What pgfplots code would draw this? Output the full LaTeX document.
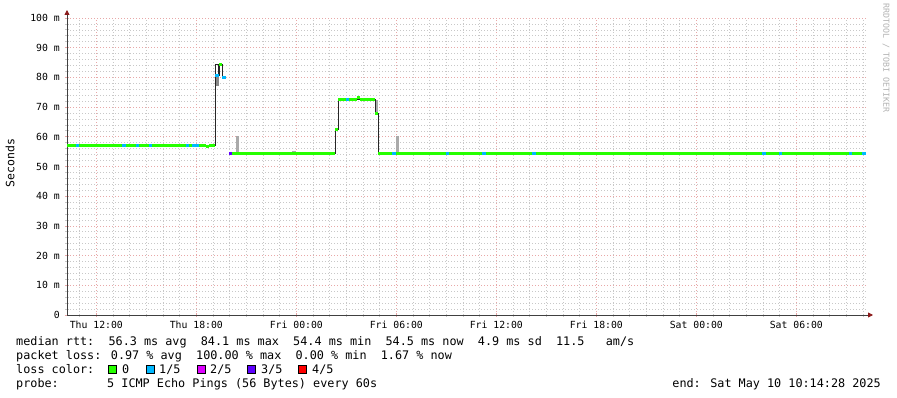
\documentclass[border=0pt]{standalone}
\usepackage{fontspec}
\setmainfont{DejaVu Sans Mono}
\usepackage{pgfplots}
\pgfplotsset{compat=1.18}
\usetikzlibrary{arrows.meta}
\definecolor{lgreen}{HTML}{26FF00}
\definecolor{lblue}{HTML}{00B8FF}
\definecolor{lmag}{HTML}{DD00FF}
\definecolor{lviol}{HTML}{5E00FF}
\definecolor{lred}{HTML}{FF0000}
\definecolor{smoke}{HTML}{AAAAAA}
\definecolor{darksmoke}{HTML}{888888}
\definecolor{majgrid}{HTML}{E8A8A8}
\definecolor{mingrid}{HTML}{C8C8C8}
\definecolor{axred}{HTML}{8B1A1A}
\definecolor{axgray}{HTML}{404040}
\begin{document}
\begin{tikzpicture}
\useasboundingbox (0pt,0pt) rectangle (897pt,397pt);
\begin{axis}[
  at={(67pt,82pt)}, anchor=south west,
  scale only axis, width=800pt, height=297pt,
  xmin=10.24, xmax=58.24, ymin=0, ymax=100,
  axis lines=left,
  x axis line style={draw=axgray, line width=0.8pt, shorten >=-6pt, -{Triangle[length=5pt,width=5pt,color=axred]}},
  y axis line style={draw=axgray, line width=0.8pt, shorten >=-8pt, -{Triangle[length=5pt,width=5pt,color=axred]}},
  xtick={12,18,24,30,36,42,48,54},
  xticklabels={Thu 12:00,Thu 18:00,Fri 00:00,Fri 06:00,Fri 12:00,Fri 18:00,Sat 00:00,Sat 06:00},
  minor xtick={11,...,58},
  ytick={0,10,...,100},
  yticklabels={0,10 m,20 m,30 m,40 m,50 m,60 m,70 m,80 m,90 m,100 m},
  minor ytick={2,4,...,98},
  grid=both,
  major grid style={draw=majgrid, line width=0.7pt, dash pattern=on 1pt off 2pt},
  minor grid style={draw=mingrid, line width=0.7pt, dash pattern=on 1pt off 2pt},
  tick align=center,
  major tick length=4pt, minor tick length=3pt,
  major tick style={draw=majgrid, line width=0.8pt},
  minor tick style={draw=mingrid, line width=0.8pt},
  xticklabel style={font=\fontsize{9.8}{11}\selectfont, inner sep=0pt, anchor=north},
  yticklabel style={font=\fontsize{9.8}{11}\selectfont, inner sep=0pt, anchor=east},
  xticklabel shift=4pt,
  yticklabel shift=5pt,
  unbounded coords=jump,
  clip=false,
]
% smoke
\addplot[draw=smoke, line width=3.5pt] coordinates {
 (20.47,54.5) (20.47,60.3) (20.47,nan)
 (23.86,54.5) (23.86,55.3) (23.86,nan)
 (28.81,67.7) (28.81,72.5) (28.81,nan)
 (30.07,54.5) (30.07,60.3)
};
\addplot[draw=darksmoke, line width=3.5pt] coordinates {
 (19.24,77.0) (19.24,80.5)
};
% median step line
\addplot[const plot, draw=black!85, line width=0.9pt] coordinates {
 (10.24,57.2) (18.58,56.9) (18.76,57.2) (19.12,84.2) (19.30,80.5) (19.36,84.2) (19.54,80.0) (19.78,80.0) (19.78,nan)
 (19.96,54.5) (26.32,62.6) (26.50,72.7) (28.72,67.7) (28.90,54.5) (58.18,54.5)
};
% loss 0 (green)
\addplot[draw=lgreen, line width=3pt] coordinates {
 (10.24,57.2) (18.58,57.2) (18.58,nan)
 (18.58,56.9) (18.76,56.9) (18.76,nan)
 (18.76,57.2) (19.12,57.2) (19.12,nan)
 (19.36,84.2) (19.54,84.2) (19.54,nan)
 (20.14,54.5) (26.32,54.5) (26.32,nan)
 (26.32,62.6) (26.50,62.6) (26.50,nan)
 (26.50,72.7) (27.64,72.7) (27.64,nan)
 (27.64,73.1) (27.82,73.1) (27.82,nan)
 (27.82,72.7) (28.72,72.7) (28.72,nan)
 (28.72,67.7) (28.90,67.7) (28.90,nan)
 (28.90,54.5) (58.18,54.5)
};
% loss 1/5 (blue)
\addplot[draw=lblue, line width=3pt] coordinates {
 (10.78,57.2) (10.96,57.2) (10.96,nan)
 (13.54,57.2) (13.78,57.2) (13.78,nan)
 (14.38,57.2) (14.56,57.2) (14.56,nan)
 (15.16,57.2) (15.34,57.2) (15.34,nan)
 (17.38,57.2) (17.56,57.2) (17.56,nan)
 (17.74,57.2) (18.16,57.2) (18.16,nan)
 (19.12,80.5) (19.36,80.5) (19.36,nan)
 (19.54,80.0) (19.78,80.0) (19.78,nan)
 (26.98,72.7) (27.16,72.7) (27.16,nan)
 (29.74,54.5) (29.98,54.5) (29.98,nan)
 (32.98,54.5) (33.16,54.5) (33.16,nan)
 (35.14,54.5) (35.38,54.5) (35.38,nan)
 (38.14,54.5) (38.38,54.5) (38.38,nan)
 (51.94,54.5) (52.18,54.5) (52.18,nan)
 (52.96,54.5) (53.14,54.5) (53.14,nan)
 (57.16,54.5) (57.34,54.5) (57.34,nan)
 (57.94,54.5) (58.18,54.5)
};
% loss 3/5 (violet)
\addplot[draw=lviol, line width=3pt] coordinates {
 (19.96,54.5) (20.14,54.5)
};
\end{axis}
% y label
\node[rotate=90, font=\fontsize{11.5}{13}\selectfont] at (10pt,234pt) {Seconds};
% watermark
\node[rotate=-90, font=\fontsize{8.3}{9}\selectfont, text=black!30] at (886pt,339pt) {RRDTOOL / TOBI OETIKER};
% legend rows
\begin{scope}[every node/.style={font=\fontsize{11.8}{13}\selectfont, inner sep=0pt, anchor=base west}]
\node at (16pt,52pt) {median rtt:\ \ 56.3 ms avg\ \ 84.1 ms max\ \ 54.4 ms min\ \ 54.5 ms now\ \ 4.9 ms sd\ \ 11.5\ \ \ am/s};
\node at (16pt,38pt) {packet loss: 0.97 \% avg\ \ 100.00 \% max\ \ 0.00 \% min\ \ 1.67 \% now};
\node at (16pt,24pt) {loss color:};
\node at (122pt,24pt) {0};
\node at (159pt,24pt) {1/5};
\node at (210pt,24pt) {2/5};
\node at (261pt,24pt) {3/5};
\node at (312pt,24pt) {4/5};
\node at (16pt,10pt) {probe:};
\node at (107pt,10pt) {5 ICMP Echo Pings (56 Bytes) every 60s};
\node[anchor=base east] at (881pt,10pt) {end: Sat May 10 10:14:28 2025};
\end{scope}
\draw[fill=lgreen, draw=black, line width=0.8pt] (108pt,24pt) rectangle (116pt,32pt);
\draw[fill=lblue, draw=black, line width=0.8pt] (146pt,24pt) rectangle (154pt,32pt);
\draw[fill=lmag, draw=black, line width=0.8pt] (197pt,24pt) rectangle (205pt,32pt);
\draw[fill=lviol, draw=black, line width=0.8pt] (247pt,24pt) rectangle (255pt,32pt);
\draw[fill=lred, draw=black, line width=0.8pt] (298pt,24pt) rectangle (306pt,32pt);
\end{tikzpicture}
\end{document}
